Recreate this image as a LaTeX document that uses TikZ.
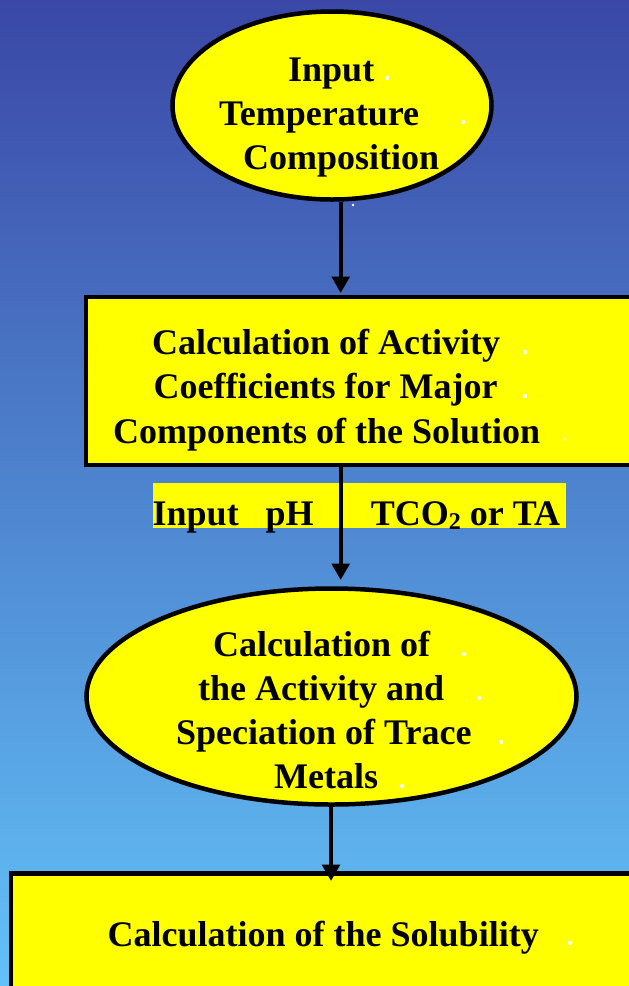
\documentclass[tikz,border=0pt]{standalone}
\usepackage{fontspec}
\setmainfont{Liberation Serif}
\usetikzlibrary{shapes.geometric,arrows.meta}
\definecolor{bgtop}{RGB}{58,71,166}
\definecolor{bgmid}{RGB}{80,148,216}
\definecolor{bgbot}{RGB}{98,194,248}
\definecolor{hl}{RGB}{255,255,0}
\begin{document}
\begin{tikzpicture}[x=1pt,y=-1pt,
  oval/.style={ellipse, draw=black, line width=4.5pt, fill=hl, inner sep=0pt},
  box/.style={rectangle, draw=black, line width=4.5pt, fill=hl, inner sep=0pt},
  lbl/.style={anchor=base west, inner sep=0pt, font=\fontsize{36}{43}\selectfont\bfseries},
  arr/.style={line width=4pt, -{Triangle[width=17.6pt,length=16.5pt]}},
  wdot/.style={fill=white}]
\useasboundingbox (0,0) rectangle (629,986);
\shade[top color=bgtop, middle color=bgmid, bottom color=bgbot] (0,0) rectangle (629,986);

% shapes
\node[oval, minimum width=319pt, minimum height=188pt] (e1) at (332,105.5) {};
\node[box, minimum width=564pt, minimum height=168pt] (r1) at (368,381) {};
\node[fill=hl, inner sep=0pt, minimum width=413.5pt, minimum height=44.5pt] (hlbox) at (359.25,505.25) {};
\node[oval, minimum width=490pt, minimum height=216pt] (e2) at (331.5,696.5) {};
\node[box, minimum width=640pt, minimum height=140pt] (r2) at (331,943.5) {};

% connectors
\coordinate (t1) at (340.7,293);
\coordinate (t2) at (340.7,580);
\coordinate (t3) at (331,881);
\draw[arr] (t1 |- e1.south) -- (t1);
\draw[arr] (t2 |- r1.south) -- (t2);
\draw[arr] (t3 |- e2.south) -- (t3);

% texts
\node[lbl] (l1a) at (288,81) {Input};
\node[lbl] (l1b) at (219,125) {Temperature};
\node[lbl] (l1c) at (243,169) {Composition};

\node[lbl] (l2a) at (152,354) {Calculation of Activity};
\node[lbl] (l2b) at (153.5,398) {Coefficients for Major};
\node[lbl] (l2c) at (113,443) {Components of the Solution};

\node[lbl] (l3a) at (152.5,525) {Input};
\node[lbl] (l3b) at (265.5,525) {pH};
\node[lbl] (l3c) at (370.6,525) {TCO\raisebox{-4pt}{\fontsize{24}{24}\selectfont 2} or TA};

\node[lbl] (l4a) at (213,656) {Calculation of};
\node[lbl] (l4b) at (198,700) {the Activity and};
\node[lbl] (l4c) at (176,744) {Speciation of Trace};
\node[lbl] (l4d) at (274,788) {Metals};

\node[lbl] (l5a) at (107.5,946.7) {Calculation of the Solubility};

% white dots
\foreach \p in {(387,78),(463,122),(525,352),(525,396),(464,654),(479,698),(501,742),(402,786),(570,943)}
  \fill[wdot] \p circle (2.2pt);
\fill[wdot] (353,205) circle (1.3pt);
\fill[wdot] (565,439) circle (1.5pt);
\end{tikzpicture}
\end{document}
